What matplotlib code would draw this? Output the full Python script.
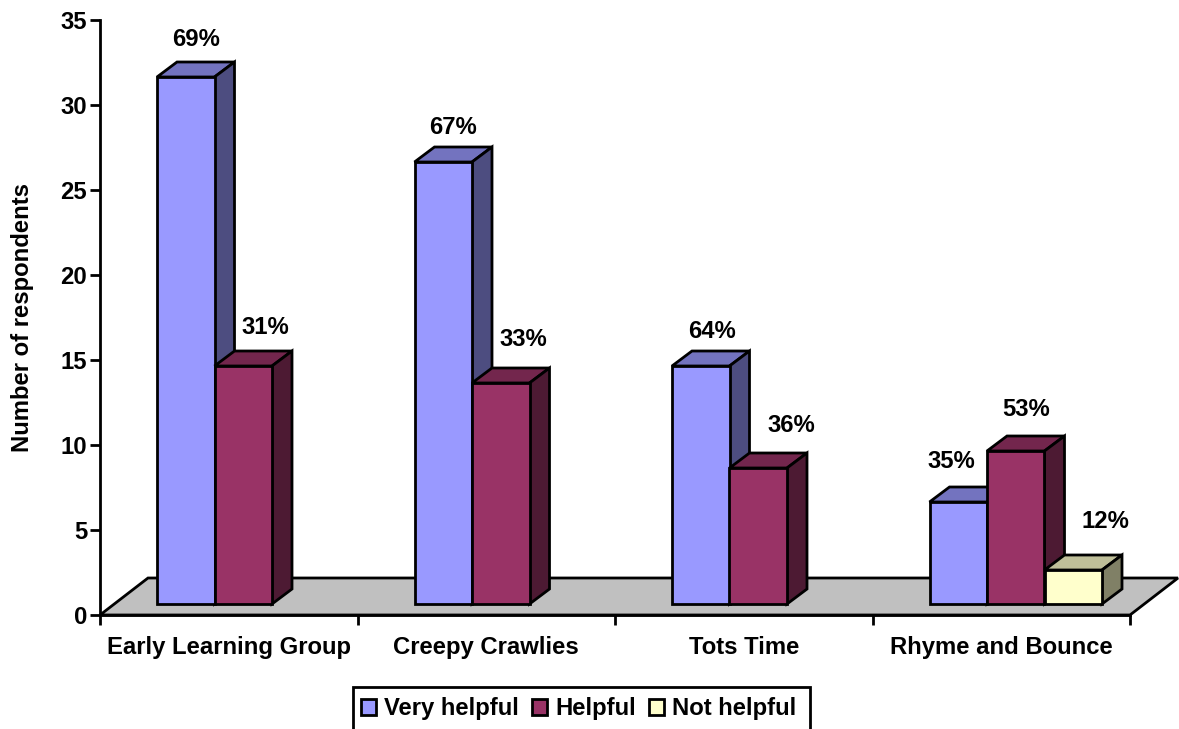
#!/bin/python3

import matplotlib
matplotlib.use("Agg")
import matplotlib.pyplot as plt
from matplotlib.patches import Patch, Polygon, Rectangle

# Chart data
categories = ["Early Learning Group", "Creepy Crawlies", "Tots Time", "Rhyme and Bounce"]
series_names = ["Very helpful", "Helpful", "Not helpful"]
very_helpful = [31, 26, 14, 6]
helpful = [14, 13, 8, 9]
not_helpful = [0, 0, 0, 2]
very_helpful_pct = ["69%", "67%", "64%", "35%"]
helpful_pct = ["31%", "33%", "36%", "53%"]
not_helpful_pct = ["", "", "", "12%"]
y_ticks = [0, 5, 10, 15, 20, 25, 30, 35]

# Styling: (front, top, side)
COLOURS = [("#9999FF", "#7373BF", "#4D4D80"),
           ("#993366", "#73264D", "#4D1A33"),
           ("#FFFFCC", "#BFBF99", "#808066")]
# hand placed percent labels, pixels from the middle of the bar's front top edge
LABEL_OFFSETS = [[(10, 38), (10, 34), (11, 34), (-7, 41)],
                 [(22, 38), (23, 43), (33, 42), (10, 42)],
                 [(0, 0), (0, 0), (0, 0), (32, 48)]]
FONT = "Liberation Sans"
FS = 17.2
LW = 2.0
W, H = 1179, 729
AX_L, AX_R, AX_T, AX_B = 100, 1130, 20, 615
PX_X = 4 / (AX_R - AX_L)  # data units per pixel
PX_Y = 35 / (AX_B - AX_T)
BAR_W = 57.5 * PX_X
BAR_START = 57 * PX_X
BASE = 11 * PX_Y
DEPTH_X, DEPTH_Y = 20 * PX_X, 15 * PX_Y
FLOOR_X, FLOOR_Y = 48 * PX_X, 37 * PX_Y


def drawBar(ax, left, value, colours, zorder):
    top = BASE + value
    right = left + BAR_W
    ax.bar(left, value, BAR_W, bottom=BASE, align="edge", color=colours[0], edgecolor="black",
           linewidth=LW, zorder=zorder + 0.2, clip_on=False)
    roof = [(left, top), (left + DEPTH_X, top + DEPTH_Y), (right + DEPTH_X, top + DEPTH_Y), (right, top)]
    side = [(right, top), (right + DEPTH_X, top + DEPTH_Y), (right + DEPTH_X, BASE + DEPTH_Y), (right, BASE)]
    ax.add_patch(Polygon(roof, facecolor=colours[1], edgecolor="black", linewidth=LW,
                         joinstyle="miter", zorder=zorder, clip_on=False))
    ax.add_patch(Polygon(side, facecolor=colours[2], edgecolor="black", linewidth=LW,
                         joinstyle="miter", zorder=zorder, clip_on=False))


def main():
    fig = plt.figure(figsize=(W / 100, H / 100), dpi=100)
    ax = fig.add_axes([AX_L / W, 1 - AX_B / H, (AX_R - AX_L) / W, (AX_B - AX_T) / H])
    ax.set_xlim(0, 4)
    ax.set_ylim(0, 35)

    floor = [(0, 0), (FLOOR_X, FLOOR_Y), (4 + FLOOR_X, FLOOR_Y), (4, 0)]
    ax.add_patch(Polygon(floor, facecolor="#C0C0C0", edgecolor="black", linewidth=LW,
                         joinstyle="miter", zorder=1, clip_on=False))

    all_values = [very_helpful, helpful, not_helpful]
    all_pct = [very_helpful_pct, helpful_pct, not_helpful_pct]
    for c in range(len(categories)):
        for s in range(len(series_names)):
            value = all_values[s][c]
            if value == 0:
                continue
            left = c + BAR_START + s * BAR_W
            drawBar(ax, left, value, COLOURS[s], 2 + c + s * 0.3)
            ax.annotate(all_pct[s][c], (left + BAR_W / 2, BASE + value),
                        xytext=LABEL_OFFSETS[s][c], textcoords="offset pixels",
                        ha="center", va="center", fontsize=FS, fontweight="bold",
                        family=FONT, zorder=20, annotation_clip=False)

    for name in ("top", "right"):
        ax.spines[name].set_visible(False)
    for name in ("left", "bottom"):
        ax.spines[name].set_linewidth(LW)

    ax.set_yticks(y_ticks)
    ax.set_xticks(range(5))
    ax.set_xticklabels([])
    ax.set_xticks([i + 0.5 for i in range(4)], categories, minor=True)
    ax.tick_params(axis="both", which="major", length=7.2, width=LW, pad=2)
    ax.tick_params(axis="x", which="minor", length=0, pad=14.8)
    for label in ax.get_yticklabels() + ax.get_xticklabels(minor=True):
        label.set_fontsize(FS)
        label.set_fontweight("bold")
        label.set_family(FONT)

    fig.text(23 / W, 1 - 317 / H, "Number of respondents", rotation=90, ha="center", va="center",
             fontsize=FS, fontweight="bold", family=FONT)

    # the legend box runs off the bottom of the picture, so the frame is its own patch
    fig.add_artist(Rectangle((353 / W, -20 / H), 457 / W, 62 / H,
                             transform=fig.transFigure, facecolor="white", edgecolor="black", linewidth=LW))
    handles = [Patch(facecolor=COLOURS[i][0], edgecolor="black", linewidth=LW, label=series_names[i])
               for i in range(3)]
    fig.legend(handles=handles, loc="center left", bbox_to_anchor=(361 / W, 1 - 709 / H), ncol=3,
               frameon=False, borderaxespad=0, borderpad=0,
               handlelength=0.63, handleheight=0.63, handletextpad=0.33, columnspacing=0.55,
               prop={"family": FONT, "weight": "bold", "size": FS})

    fig.savefig("out.png", dpi=100)


if __name__ == "__main__":
    main()
